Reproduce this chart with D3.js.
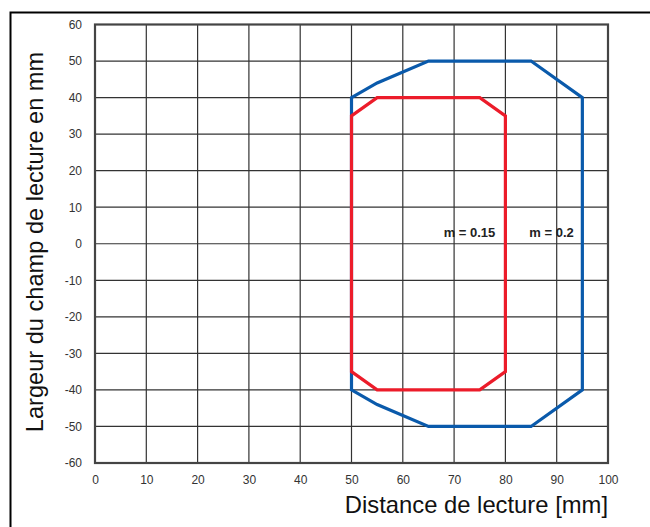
<!DOCTYPE html>
<html><head><meta charset="utf-8">
<script src="https://cdn.jsdelivr.net/npm/d3@7"></script>
<style>body{margin:0;background:#fff}svg{display:block}text{font-family:"Liberation Sans",Arial,sans-serif}</style>
</head><body><svg id="c" width="650" height="527"></svg>
<script>
const xTicks = [0,10,20,30,40,50,60,70,80,90,100];
const yTicks = [60,50,40,30,20,10,0,-10,-20,-30,-40,-50,-60];
const blueX = [50,55,65,85,95,95,85,65,55,50];
const blueY = [40,44,50,50,40,-40,-50,-50,-44,-40];
const redX = [50,55,75,80,80,75,55,50];
const redY = [35,40,40,35,-35,-40,-40,-35];
const labels = ["m = 0.15","m = 0.2"];
const labelX = [73,89];
const labelY = [0,0];

const svg = d3.select("#c");
const L=95,R=608,T=24.5,B=463;
const x = d3.scaleLinear().domain([0,100]).range([L,R]);
const y = d3.scaleLinear().domain([-60,60]).range([B,T]);

// outer frame
svg.append("rect").attr("x",10.5).attr("y",12.5).attr("width",700).attr("height",600)
  .attr("fill","none").attr("stroke","#000").attr("stroke-width",2);

// grid
const g = svg.append("g");
g.selectAll(".vx").data(xTicks).join("line").attr("x1",d=>x(d)).attr("x2",d=>x(d))
  .attr("y1",T).attr("y2",B).attr("stroke","#333").attr("stroke-width",1.2);
g.selectAll(".hy").data(yTicks).join("line").attr("y1",d=>y(d)).attr("y2",d=>y(d))
  .attr("x1",L).attr("x2",R).attr("stroke","#333").attr("stroke-width",1.2);
g.append("rect").attr("x",L).attr("y",T).attr("width",R-L).attr("height",B-T)
  .attr("fill","none").attr("stroke","#444").attr("stroke-width",2.2);

// axes labels via d3 axes
const fmt = d => String(d);
const xa = svg.append("g").attr("transform",`translate(0,${B})`)
  .call(d3.axisBottom(x).tickValues(xTicks).tickSize(0).tickPadding(12).tickFormat(fmt));
xa.select(".domain").remove();
xa.selectAll("text").attr("font-size",12).attr("fill","#333").style("font-family","'Liberation Sans',Arial,sans-serif");
const ya = svg.append("g").attr("transform",`translate(${L},0)`)
  .call(d3.axisLeft(y).tickValues(yTicks).tickSize(0).tickPadding(13).tickFormat(fmt));
ya.select(".domain").remove();
ya.selectAll("text").attr("font-size",12).attr("fill","#333").style("font-family","'Liberation Sans',Arial,sans-serif");

// polygons
const line = d3.line().x(d=>x(d[0])).y(d=>y(d[1])).curve(d3.curveLinearClosed);
svg.append("path").datum(blueX.map((v,i)=>[v,blueY[i]])).attr("d",line)
  .attr("fill","none").attr("stroke","#0a5aab").attr("stroke-width",3.2).attr("stroke-linejoin","miter");
svg.append("path").datum(redX.map((v,i)=>[v,redY[i]])).attr("d",line)
  .attr("fill","none").attr("stroke","#ec1c2a").attr("stroke-width",3.2).attr("stroke-linejoin","miter");

// annotations
svg.selectAll(".lab").data(labels).join("text")
  .attr("x",(d,i)=>x(labelX[i])).attr("y",(d,i)=>y(labelY[i])-7)
  .attr("text-anchor","middle").attr("font-size",13).attr("font-weight","bold").attr("fill","#222")
  .text(d=>d);

// titles
svg.append("text").attr("x",R).attr("y",512.5).attr("text-anchor","end")
  .attr("font-size",23.8).attr("fill","#111").text("Distance de lecture [mm]");
svg.append("text").attr("transform",`translate(43,${242}) rotate(-90)`).attr("text-anchor","middle")
  .attr("font-size",23.6).attr("fill","#111").text("Largeur du champ de lecture en mm");
</script></body></html>
